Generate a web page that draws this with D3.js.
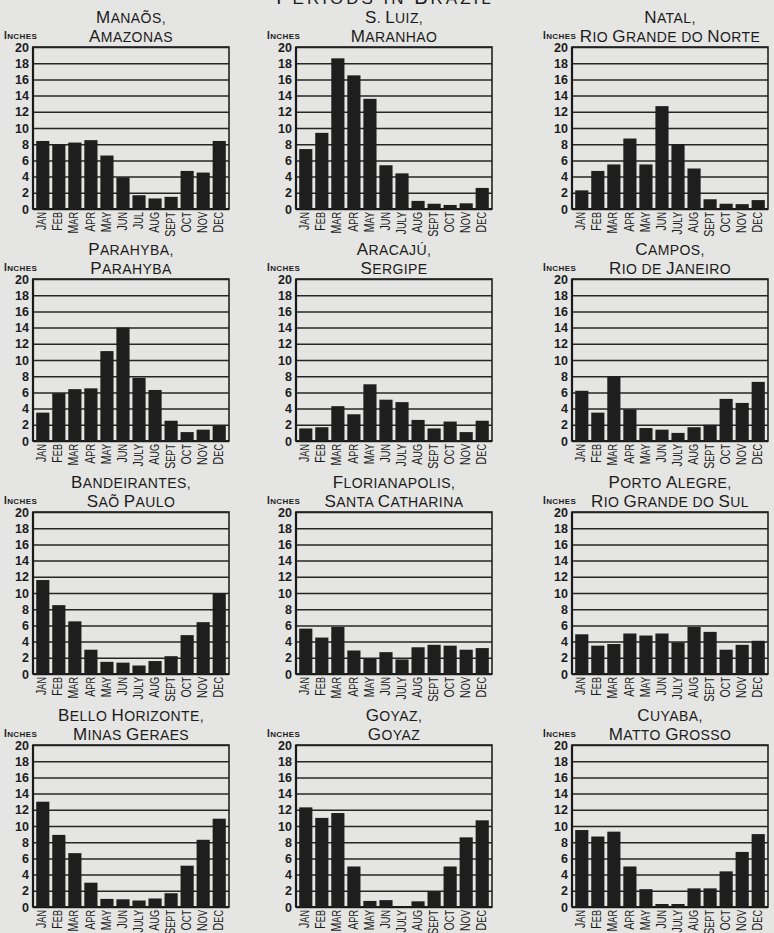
<!DOCTYPE html>
<html>
<head>
<meta charset="utf-8">
<script src="https://cdn.jsdelivr.net/npm/d3@7"></script>
<style>
  html, body { margin: 0; padding: 0; background: #e5e5e3; }
  svg { display: block; }
</style>
</head>
<body>
<svg id="chart" width="774" height="933"></svg>
<script>
// ---------------- DATA ----------------
const pageTitle = "Periods in Brazil";
const months = ["Jan","Feb","Mar","Apr","May","Jun","July","Aug","Sept","Oct","Nov","Dec"];
const manaosMonths = ["Jan","Feb","Mar","Apr","May","Jun","Jul","Aug","Sept","Oct","Nov","Dec"];
const yTicks = [0,2,4,6,8,10,12,14,16,18,20];
const unitLabel = "Inches";

const cities = ["Manaõs,", "S. Luiz,", "Natal,",
                "Parahyba,", "Aracajú,", "Campos,",
                "Bandeirantes,", "Florianapolis,", "Porto Alegre,",
                "Bello Horizonte,", "Goyaz,", "Cuyaba,"];
const states = ["Amazonas", "Maranhao", "Rio Grande do Norte",
                "Parahyba", "Sergipe", "Rio de Janeiro",
                "Saõ Paulo", "Santa Catharina", "Rio Grande do Sul",
                "Minas Geraes", "Goyaz", "Matto Grosso"];

const manaos        = [8.4, 8.0, 8.2, 8.5, 6.6, 3.9, 1.7, 1.3, 1.5, 4.7, 4.5, 8.4];
const sLuiz         = [7.4, 9.4, 18.6, 16.5, 13.6, 5.4, 4.4, 1.0, 0.65, 0.5, 0.7, 2.6];
const natal         = [2.3, 4.7, 5.5, 8.7, 5.5, 12.7, 8.0, 5.0, 1.2, 0.65, 0.6, 1.1];
const parahyba      = [3.5, 5.9, 6.4, 6.5, 11.1, 14.0, 7.8, 6.3, 2.5, 1.1, 1.4, 1.9];
const aracaju       = [1.55, 1.7, 4.3, 3.3, 7.0, 5.1, 4.8, 2.6, 1.55, 2.4, 1.1, 2.5];
const campos        = [6.2, 3.5, 8.0, 3.9, 1.6, 1.4, 1.0, 1.7, 2.0, 5.2, 4.7, 7.3];
const bandeirantes  = [11.6, 8.5, 6.5, 3.0, 1.5, 1.4, 1.05, 1.6, 2.2, 4.8, 6.4, 10.0];
const florianapolis = [5.6, 4.5, 5.8, 2.9, 1.9, 2.7, 1.8, 3.3, 3.6, 3.5, 3.0, 3.2];
const portoAlegre   = [4.9, 3.5, 3.7, 5.0, 4.75, 5.0, 3.9, 5.8, 5.2, 3.0, 3.6, 4.1];
const belloHorizonte= [13.0, 8.9, 6.65, 3.0, 1.0, 0.95, 0.8, 1.05, 1.7, 5.1, 8.3, 10.9];
const goyaz         = [12.3, 11.0, 11.6, 5.0, 0.75, 0.85, 0.0, 0.7, 1.95, 5.0, 8.6, 10.7];
const cuyaba        = [9.5, 8.7, 9.3, 5.0, 2.2, 0.37, 0.37, 2.3, 2.3, 4.4, 6.8, 9.0];

const series = [manaos, sLuiz, natal, parahyba, aracaju, campos,
                bandeirantes, florianapolis, portoAlegre,
                belloHorizonte, goyaz, cuyaba];
const monthSets = [manaosMonths, months, months, months, months, months,
                   months, months, months, months, months, months];

// ---------------- LAYOUT ----------------
const svg = d3.select("#chart");
const FONT = "'Liberation Sans', Arial, sans-serif";
const INK = "#1c1c1c";
const colX = [33, 296, 572];
const rowY = [47, 279, 512, 745];
const pw = 196, ph = 162;

// Writes a string in "small caps" style: capitals big, the rest small uppercase.
function caps(textSel, str, big, small) {
  textSel.text(null);
  const runs = [];
  for (const ch of str) {
    const isBig = ch !== ch.toLowerCase();
    const last = runs[runs.length - 1];
    if (last && last.big === isBig) last.s += ch;
    else runs.push({ big: isBig, s: ch });
  }
  runs.forEach(r => {
    textSel.append("tspan")
      .attr("font-size", r.big ? big : small)
      .text(r.s.toUpperCase());
  });
}

svg.append("rect").attr("width", 774).attr("height", 933).attr("fill", "#e5e5e3");

// cut-off page title at the very top
const pt = svg.append("text")
  .attr("x", 385).attr("y", 4)
  .attr("text-anchor", "middle")
  .attr("font-family", FONT)
  .attr("fill", INK)
  .attr("letter-spacing", 3);
caps(pt, pageTitle, 20, 17);

series.forEach((vals, i) => {
  const col = i % 3, row = Math.floor(i / 3);
  const g = svg.append("g").attr("transform", `translate(${colX[col]},${rowY[row]})`);

  const x = d3.scaleBand().domain(d3.range(12)).range([0, pw])
    .paddingInner(0.18).paddingOuter(0.2);
  const y = d3.scaleLinear().domain([0, 20]).range([ph, 0]);

  // grid + y tick labels
  const yAxis = g.append("g")
    .call(d3.axisLeft(y).tickValues(yTicks).tickSize(-pw).tickPadding(4).tickFormat(d => d));
  yAxis.select(".domain").remove();
  yAxis.selectAll(".tick line").attr("stroke", "#262626").attr("stroke-width", 1.5);
  yAxis.selectAll(".tick text")
    .attr("font-family", FONT).attr("font-size", 12.5).attr("font-weight", "bold")
    .attr("fill", INK);

  // frame
  g.append("rect").attr("x", 0).attr("y", 0).attr("width", pw).attr("height", ph)
    .attr("fill", "none").attr("stroke", "#222").attr("stroke-width", 1.6);
  g.append("line").attr("x1", 0).attr("x2", 0).attr("y1", 0).attr("y2", ph)
    .attr("stroke", "#1a1a1a").attr("stroke-width", 2.2);
  g.append("line").attr("x1", 0).attr("x2", pw).attr("y1", ph).attr("y2", ph)
    .attr("stroke", "#1a1a1a").attr("stroke-width", 2.2);

  // bars
  g.selectAll("rect.bar").data(vals).join("rect")
    .attr("class", "bar")
    .attr("x", (d, j) => x(j))
    .attr("width", x.bandwidth())
    .attr("y", d => y(d))
    .attr("height", d => y(0) - y(d))
    .attr("fill", "#1e1e1e");

  // month labels (tall, compressed lettering)
  const labels = monthSets[i];
  const xAxis = g.append("g").attr("transform", `translate(0,${ph})`)
    .call(d3.axisBottom(x).tickSize(0).tickFormat(j => labels[j]));
  xAxis.select(".domain").remove();
  xAxis.selectAll(".tick text").each(function(j) {
    const t = d3.select(this)
      .attr("transform", "rotate(-90) scale(0.76,1)")
      .attr("x", -4).attr("y", 0).attr("dy", "0.36em")
      .attr("text-anchor", "end")
      .attr("font-family", FONT)
      .attr("fill", INK);
    caps(t, labels[j], 14, 12);
  });

  // titles
  const t1 = g.append("text").attr("x", pw / 2).attr("y", -24)
    .attr("text-anchor", "middle").attr("font-family", FONT).attr("fill", INK)
    .attr("letter-spacing", 0.4);
  caps(t1, cities[i], 17, 14);
  const t2 = g.append("text").attr("x", pw / 2).attr("y", -5)
    .attr("text-anchor", "middle").attr("font-family", FONT).attr("fill", INK)
    .attr("letter-spacing", 0.4);
  caps(t2, states[i], 17, 14);

  // unit label
  const u = g.append("text").attr("x", -29).attr("y", -8)
    .attr("font-family", FONT).attr("fill", INK).attr("font-weight", "bold")
    .attr("letter-spacing", 0.4);
  caps(u, unitLabel, 10, 8);
});
</script>
</body>
</html>
